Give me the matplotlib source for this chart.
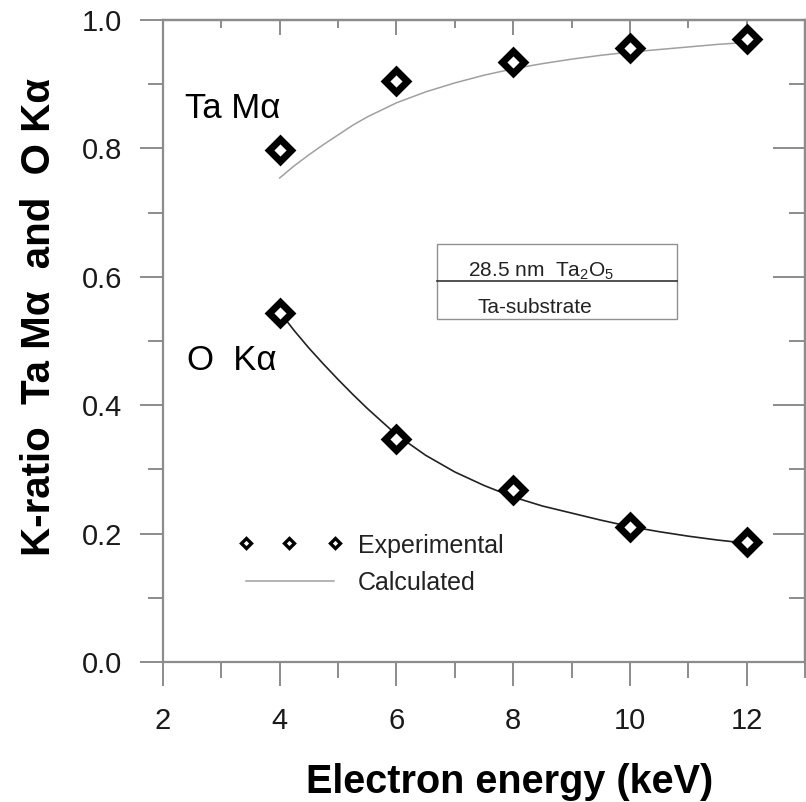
import matplotlib
matplotlib.use("Agg")
import matplotlib.pyplot as plt
from matplotlib.patches import Rectangle
from matplotlib.ticker import MultipleLocator

plt.rcParams["font.family"] = ["Liberation Sans", "DejaVu Sans"]
plt.rcParams["mathtext.fontset"] = "custom"
plt.rcParams["mathtext.rm"] = "Liberation Sans"

# measured k-ratios
energy = [4, 6, 8, 10, 12]
ta_exp = [0.797, 0.905, 0.935, 0.957, 0.971]
o_exp = [0.543, 0.347, 0.268, 0.211, 0.187]

# calculated curves
energy_calc = [4, 4.25, 4.5, 4.75, 5, 5.25, 5.5, 6, 6.5, 7, 7.5, 8, 8.5,
               9, 9.5, 10, 10.5, 11, 11.5, 12]
ta_calc = [0.754, 0.773, 0.790, 0.806, 0.821, 0.836, 0.849, 0.871, 0.888,
           0.902, 0.914, 0.924, 0.932, 0.939, 0.945, 0.950, 0.954, 0.958,
           0.962, 0.965]
o_calc = [0.545, 0.516, 0.489, 0.464, 0.440, 0.417, 0.395, 0.354, 0.322,
          0.296, 0.275, 0.257, 0.243, 0.232, 0.221, 0.211, 0.203, 0.196,
          0.190, 0.185]

AX_GRAY = "#8c8c8c"

fig = plt.figure(figsize=(8.06, 8.02), dpi=100)
ax = fig.add_axes([163 / 806, 140 / 802, 642 / 806, 642 / 802])

ax.plot(energy_calc, ta_calc, color="#a0a0a0", lw=1.1, zorder=2)
ax.plot(energy_calc, o_calc, color="#222222", lw=1.2, zorder=2)
for ys in (ta_exp, o_exp):
    ax.plot(energy, ys, ls="none", marker="D", ms=11, mew=5,
            mfc="white", mec="black", zorder=3)

ax.set_xlim(2, 13)
ax.set_ylim(0, 1.0)
ax.xaxis.set_major_locator(MultipleLocator(2))
ax.xaxis.set_minor_locator(MultipleLocator(1))
ax.yaxis.set_major_locator(MultipleLocator(0.2))
ax.yaxis.set_minor_locator(MultipleLocator(0.1))
ax.yaxis.set_major_formatter(lambda v, p: f"{v:.1f}")

for s in ax.spines.values():
    s.set_color(AX_GRAY)
    s.set_linewidth(1.6)
ax.tick_params(which="both", direction="out", color=AX_GRAY, width=1.4,
               labelsize=21, labelcolor="#1a1a1a", top=False, right=False)
ax.tick_params(axis="y", which="major", length=16.5, pad=13)
ax.tick_params(axis="y", which="minor", length=11)
ax.tick_params(axis="x", which="major", length=17.5, pad=15)
ax.tick_params(axis="x", which="minor", length=11.5)

# inward ticks on the right and top edges
right = ax.secondary_yaxis("right")
right.yaxis.set_major_locator(MultipleLocator(0.2))
right.yaxis.set_minor_locator(MultipleLocator(0.1))
right.tick_params(which="both", direction="in", color=AX_GRAY, width=1.4,
                  labelright=False)
right.tick_params(which="major", length=23)
right.tick_params(which="minor", length=11.5)
right.spines["right"].set_color(AX_GRAY)
right.spines["right"].set_linewidth(1.6)

top = ax.secondary_xaxis("top")
top.xaxis.set_major_locator(MultipleLocator(2))
top.xaxis.set_minor_locator(MultipleLocator(1))
top.tick_params(which="both", direction="in", color=AX_GRAY, width=1.4,
                labeltop=False)
top.tick_params(which="major", length=11)
top.tick_params(which="minor", length=6)
top.spines["top"].set_color(AX_GRAY)
top.spines["top"].set_linewidth(1.6)

# curve labels
ax.text(2.38, 0.847, "Ta M\u03b1", fontsize=25, va="baseline")
ax.text(2.41, 0.455, "O  K\u03b1", fontsize=25, va="baseline")

# sample structure inset
ax.add_patch(Rectangle((6.70, 0.534), 4.11, 0.117, fill=False,
                       ec="#909090", lw=1.0, zorder=1))
ax.plot([6.70, 10.81], [0.593, 0.593], color="#333333", lw=1.2, zorder=1)
ax.text(7.22, 0.600, r"28.5 nm  Ta$_2$O$_5$", fontsize=15, va="baseline",
        color="#222222")
ax.text(7.39, 0.543, "Ta-substrate", fontsize=15, va="baseline",
        color="#222222")

# hand-drawn key
ax.plot([3.42, 4.16, 4.95], [0.185] * 3, ls="none", marker="D", ms=5.5,
        mew=2.4, mfc="white", mec="black", clip_on=False)
ax.plot([3.42, 4.93], [0.126, 0.126], color="#a0a0a0", lw=1.1)
ax.text(5.34, 0.170, "Experimental", fontsize=18, va="baseline",
        color="#222222")
ax.text(5.34, 0.112, "Calculated", fontsize=18, va="baseline",
        color="#222222")

fig.text(510 / 806, 9 / 802, "Electron energy (keV)", fontsize=28.5,
         fontweight="bold", ha="center", va="baseline")
fig.text(39 / 806, (802 - 317) / 802, "K-ratio  Ta M\u03b1  and  O K\u03b1",
         fontsize=29, fontweight="bold", rotation=90, ha="center",
         va="center")

fig.savefig("out.png", dpi=100)
